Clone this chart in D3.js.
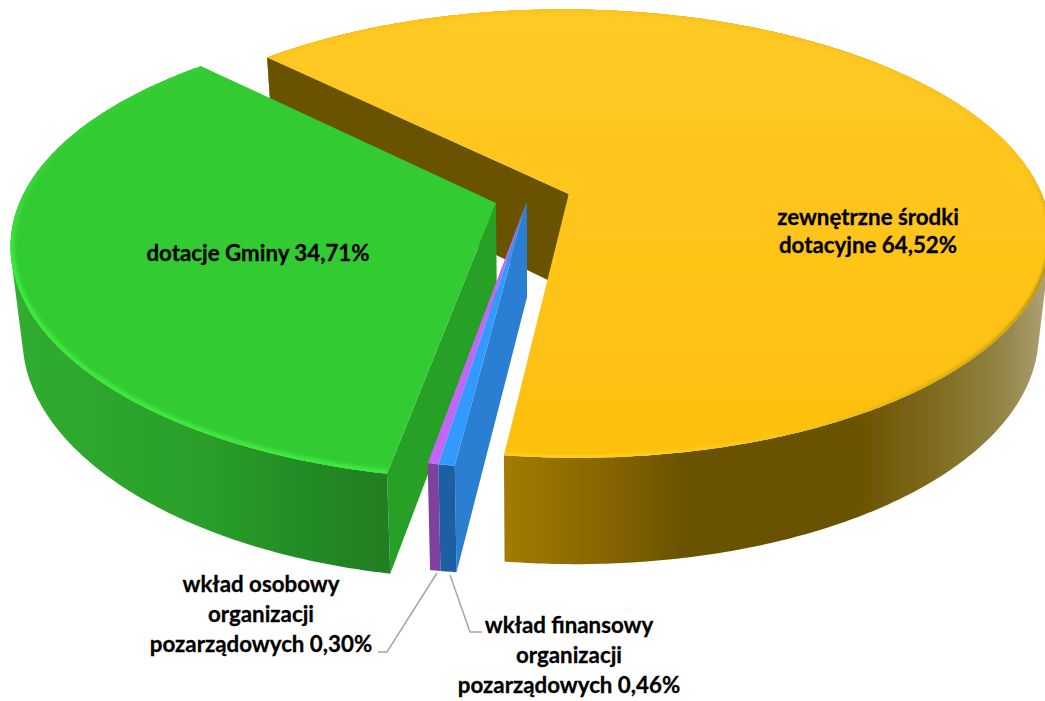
<!DOCTYPE html>
<html>
<head>
<meta charset="utf-8">
<script src="https://cdnjs.cloudflare.com/ajax/libs/d3/7.8.5/d3.min.js"></script>
<style>
  html, body { margin:0; padding:0; background:#fff; }
  text { font-family:Lato, "Open Sans", sans-serif; font-weight:700; fill:#000; stroke:#000; stroke-width:0.3; text-anchor:middle; }
</style>
</head>
<body>
<div id="chart"></div>
<script>
const categories = ["zewnętrzne środki dotacyjne","wkład finansowy organizacji pozarządowych","wkład osobowy organizacji pozarządowych","dotacje Gminy"]
const values = [64.52,0.46,0.30,34.71]
const labelLines = [
  ["zewnętrzne środki","dotacyjne 64,52%"],
  ["wkład finansowy","organizacji","pozarządowych 0,46%"],
  ["wkład osobowy","organizacji","pozarządowych 0,30%"],
  ["dotacje Gminy 34,71%"]
]

const width = 1045, height = 701

// camera: ground plane of the pie -> screen, front of the pie comes out bigger
// k = underside of the pie is further away, so it shrinks toward the middle
const cam = {x:531, y:199, a:475, b:219, p:0.177, q:0.1, k:0.977}
// how far each slice was pulled out, world units, and small angle fix in degrees
const pull = [[0.0798,-0.0228],[-0.0085,0.0091],[-0.0085,0.0091],[-0.0735,0.0182]]
const turn = [0.9,0.7,0.7,1]
// per slice tweaks so the front edges land right
const persp = [0.177,0.177,0.177,0.2]
const depth = [96,96,96,90]

const sx = d3.scaleLinear().domain([-1,1]).range([cam.x-cam.a,cam.x+cam.a])
const sy = d3.scaleLinear().domain([-1,1]).range([cam.y-cam.b,cam.y+cam.b])

function project(i,wx,wy,z){
  const dx = (sx(wx)-cam.x)/(1-cam.p*wy)
  const dy = (sy(wy)-cam.y)/(1-persp[i]*wy)
  return [
    cam.x + (z ? dx*cam.k : dx),
    cam.y + dy + (z ? depth[i]/(1-cam.q*wy) : 0)
  ]
}

const pie = d3.pie().sort(null)
  .startAngle(-45.9*Math.PI/180)
  .endAngle((360-45.9)*Math.PI/180)

const slices = pie(values).map((d,i) => {
  const t = turn[i]*Math.PI/180
  const a0 = d.startAngle+t, a1 = d.endAngle+t
  const n = Math.max(2,Math.ceil((a1-a0)/0.01))
  const rim = d3.range(n+1).map(k => {
    const ang = a0+(a1-a0)*k/n
    return [pull[i][0]+Math.sin(ang),pull[i][1]-Math.cos(ang)]
  })
  return {i, c:pull[i], rim}
})

const line = d3.line()
const topFace = s => line([project(s.i,s.c[0],s.c[1],0),...s.rim.map(r => project(s.i,r[0],r[1],0))])+"Z"
const rimTop = s => line(s.rim.map(r => project(s.i,r[0],r[1],0)))
// outer side as a strip of quads all wound the same way, so the union gets the real silhouette
const side = s => d3.pairs(s.rim).map(([r0,r1]) => {
  const q = [project(s.i,r0[0],r0[1],0),project(s.i,r1[0],r1[1],0),project(s.i,r1[0],r1[1],1),project(s.i,r0[0],r0[1],1)]
  if (d3.polygonArea(q) < 0) q.reverse()
  return line(q)+"Z"
}).join("")
// wall along one cut: e = 0 first rim point, e = 1 last rim point
const wall = (s,e) => {
  const r = e ? s.rim[s.rim.length-1] : s.rim[0]
  return line([project(s.i,s.c[0],s.c[1],0),project(s.i,r[0],r[1],0),project(s.i,r[0],r[1],1),project(s.i,s.c[0],s.c[1],1)])+"Z"
}

const svg = d3.select("#chart").append("svg")
  .attr("width",width).attr("height",height)
  .style("display","block")
const defs = svg.append("defs")

function gradient(id,x1,x2,stops,vertical){
  const g = defs.append("linearGradient").attr("id",id)
    .attr("gradientUnits","userSpaceOnUse")
    .attr("x1",vertical?0:x1).attr("x2",vertical?0:x2)
    .attr("y1",vertical?x1:0).attr("y2",vertical?x2:0)
  stops.forEach(s => g.append("stop").attr("offset",s[0]).attr("stop-color",s[1]))
}
gradient("yellowSide",505,1045,[[0,"#a27c00"],[0.2,"#846400"],[0.33,"#6b5200"],[0.65,"#6b5200"],[0.8,"#7f6c20"],[0.93,"#95874a"],[1,"#ada074"]])
gradient("yellowTop",0,460,[[0,"#ffc926"],[1,"#fdc00e"]],true)
gradient("yellowRim",170,460,[[0,"#fdc214"],[0.35,"#b08a10"],[0.7,"#d8a80e"],[1,"#ffd21c"]],true)
gradient("greenSide",12,395,[[0,"#30ad30"],[0.5,"#2a9f2a"],[0.72,"#248f25"],[0.9,"#218224"],[1,"#207f22"]])
gradient("greenRim",150,280,[[0,"#34ce34"],[1,"#3dea3d"]],true)
defs.append("filter").attr("id","soft").attr("x","-5%").attr("y","-5%").attr("width","110%").attr("height","110%")
  .append("feGaussianBlur").attr("stdDeviation",1.5)
defs.append("filter").attr("id","edge").attr("x","-2%").attr("y","-2%").attr("width","104%").attr("height","104%")
  .append("feGaussianBlur").attr("stdDeviation",0.5)

const yellow = slices[0], blue = slices[1], purple = slices[2], green = slices[3]
const pies = svg.append("g").attr("filter","url(#edge)")

// yellow goes first, everything else sits in front of it
pies.append("path").attr("d",side(yellow)).attr("fill","url(#yellowSide)")
pies.append("path").attr("d",wall(yellow,0)).attr("fill","#6b5200")
pies.append("path").attr("d",topFace(yellow)).attr("fill","url(#yellowTop)")
defs.append("clipPath").attr("id","clipYellow").append("path").attr("d",topFace(yellow))
pies.append("path").attr("d",rimTop(yellow)).attr("fill","none")
  .attr("stroke","url(#yellowRim)").attr("stroke-width",5)
  .attr("filter","url(#soft)").attr("clip-path","url(#clipYellow)")

pies.append("path").attr("d",wall(green,0)).attr("fill","#27a127")
pies.append("path").attr("d",side(green)).attr("fill","url(#greenSide)")
pies.append("path").attr("d",topFace(green)).attr("fill","#33cc33")
defs.append("clipPath").attr("id","clipGreen").append("path").attr("d",topFace(green))
pies.append("path").attr("d",rimTop(green)).attr("fill","none")
  .attr("stroke","url(#greenRim)").attr("stroke-width",8)
  .attr("filter","url(#soft)").attr("clip-path","url(#clipGreen)")

pies.append("path").attr("d",side(purple)).attr("fill","#7f3fa0")
pies.append("path").attr("d",topFace(purple)).attr("fill","#c266f5")
pies.append("path").attr("d",wall(blue,0)).attr("fill","#2a7fd2")
pies.append("path").attr("d",side(blue)).attr("fill","#1d5fa3")
pies.append("path").attr("d",topFace(blue)).attr("fill","#3399ff")

// leader lines for the two thin slices
const leaders = [
  [[437,573],[387,652],[378,652]],
  [[450,575],[470,632],[482,632]]
]
svg.selectAll("path.leader").data(leaders).enter().append("path")
  .attr("class","leader")
  .attr("d",d => line(d))
  .attr("fill","none").attr("stroke","#a6a6a6").attr("stroke-width",1.5)

const labelPos = [[868,225],[569,633],[261,592],[258,261]]
const lineGap = 30, fontSize = 22.3

svg.selectAll("text.label").data(labelLines).enter().append("text")
  .attr("class","label")
  .attr("font-size",fontSize)
  .each(function(d,i){
    d3.select(this).selectAll("tspan").data(d).enter().append("tspan")
      .attr("x",labelPos[i][0])
      .attr("y",(t,k) => labelPos[i][1]+k*(i==0?28:lineGap))
      .text(t => t)
  })
</script>
</body>
</html>
